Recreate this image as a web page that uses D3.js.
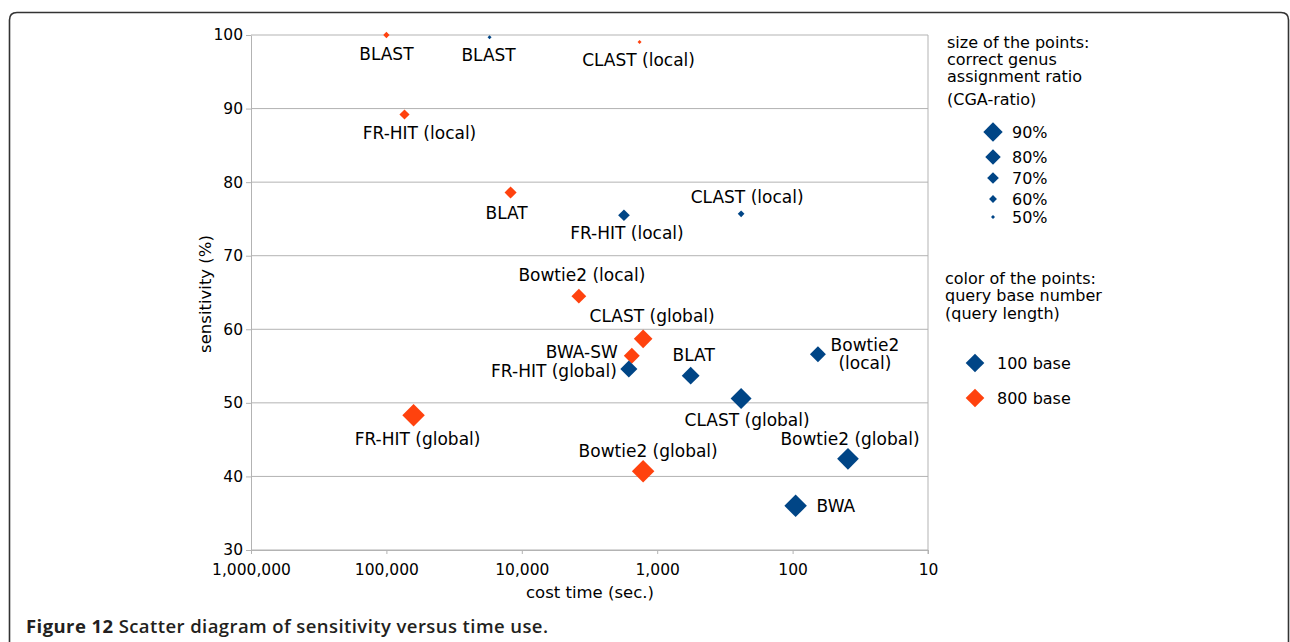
<!doctype html>
<html lang="en">
<head>
<meta charset="utf-8">
<script src="https://cdnjs.cloudflare.com/ajax/libs/d3/7.8.5/d3.min.js"></script>
<style type="text/css">
	body {
		margin: 0;
		background: #fff;
	}
	svg { font-family: 'DejaVu Sans', sans-serif; }
	.grid line { stroke: #b3b3b3; }
	.axis path, .axis line { stroke: #b3b3b3; }
	.axis text { fill: #000; font-size: 15.5px; font-family: 'DejaVu Sans', sans-serif; }
	.lbl { font-size: 17px; fill: #000; }
	.leg { font-size: 16px; fill: #000; }
	.ttl { font-size: 16.5px; fill: #000; }
</style>
</head>
<body>
<script>

// Data
const tools = ["BLAST", "BLAST", "CLAST (local)", "FR-HIT (local)", "BLAT", "FR-HIT (local)",
	"CLAST (local)", "Bowtie2 (local)", "CLAST (global)", "BWA-SW", "FR-HIT (global)", "BLAT",
	"FR-HIT (global)", "Bowtie2 (global)", "Bowtie2 (local)", "CLAST (global)", "Bowtie2 (global)", "BWA"]
const queryLength = [800, 100, 800, 800, 800, 100, 100, 800, 800, 800, 100, 100, 800, 800, 100, 100, 100, 100]
const costTime = [100000, 17300, 1350, 73500, 12100, 1760, 240, 3790, 1270, 1540, 1620, 566,
	63000, 1270, 65, 240, 39, 95]
const sensitivity = [100, 99.7, 99.05, 89.2, 78.6, 75.5, 75.7, 64.5, 58.7, 56.4, 54.6, 53.7,
	48.3, 40.7, 56.6, 50.6, 42.4, 36.0]
const cgaRatio = [56, 50, 50, 66, 71, 70, 57, 78, 88, 81, 84, 86, 98, 98, 81, 94, 96, 98]

const xTicks = [1000000, 100000, 10000, 1000, 100, 10]
const yTicks = [30, 40, 50, 60, 70, 80, 90, 100]
const legendRatios = [90, 80, 70, 60, 50]
const legendLengths = [100, 800]

// label placement relative to each point: [dx, dy, anchor, wrap]
const labelPos = [[0, 19, "middle"], [-1, 18, "middle"], [-1, 18, "middle"], [15, 19, "middle"],
	[-4, 21, "middle"], [3, 18, "middle"], [6, -17, "middle"], [3, -21, "middle"],
	[9, -23, "middle"], [-14, -4, "end"], [-12, 2, "end"], [3, -21, "middle"],
	[4, 24, "middle"], [5, -20, "middle"], [47, -9, "middle", true], [6, 22, "middle"],
	[2, -20, "middle"], [21, 0, "start"]]

const w = 1290
const h = 642

const points = tools.map((t, i) => ({
	name: t, len: queryLength[i], time: costTime[i], sens: sensitivity[i], cga: cgaRatio[i], pos: labelPos[i]
}))

const xScale = d3.scaleLog().domain([1000000, 10]).range([251, 928])
const yScale = d3.scaleLinear().domain([30, 100]).range([550, 35])
const sizeScale = d3.scaleLinear().domain([50, 90]).range([2, 9.7])
const color = d3.scaleOrdinal().domain(legendLengths).range(["#004586", "#ff420e"])

const diamond = r => "M0," + (-r) + "L" + r + ",0L0," + r + "L" + (-r) + ",0Z"

const svg = d3.select("body").append("svg")
	.attr("width", w)
	.attr("height", h)

// figure frame
svg.append("path")
	.attr("d", "M9.5,660 L9.5,20 Q9.5,12.5 17,12.5 L1281,12.5 Q1288.5,12.5 1288.5,20 L1288.5,660")
	.attr("fill", "none")
	.attr("stroke", "#333")
	.attr("stroke-width", 1.6)

// horizontal grid lines
svg.append("g").attr("class", "grid")
	.selectAll("line")
	.data(yTicks)
	.enter().append("line")
	.attr("x1", 251).attr("x2", 928)
	.attr("y1", d => yScale(d)).attr("y2", d => yScale(d))

// right border of the plot
svg.append("line")
	.attr("x1", 928).attr("x2", 928)
	.attr("y1", yScale(100)).attr("y2", yScale(30) + 4)
	.attr("stroke", "#b3b3b3")

// axes
const xAxis = d3.axisBottom(xScale).tickValues(xTicks).tickFormat(d3.format(",")).tickSize(4).tickSizeOuter(0)
const yAxis = d3.axisLeft(yScale).tickValues(yTicks).tickSize(5).tickSizeOuter(0)

svg.append("g").attr("class", "axis")
	.attr("transform", "translate(0," + yScale(30) + ")")
	.call(xAxis)
	.call(g => g.selectAll("text").attr("dy", null).attr("y", 25))

svg.append("g").attr("class", "axis")
	.attr("transform", "translate(251,0)")
	.call(yAxis)
	.call(g => g.selectAll("text").attr("x", -8))

// axis titles
svg.append("text")
	.attr("class", "ttl")
	.attr("x", 590).attr("y", 598)
	.attr("text-anchor", "middle")
	.text("cost time (sec.)")

svg.append("text")
	.attr("class", "ttl")
	.attr("transform", "rotate(-90)")
	.attr("x", -294).attr("y", 211)
	.attr("text-anchor", "middle")
	.text("sensitivity (%)")

// points
svg.append("g")
	.selectAll("path")
	.data(points)
	.enter().append("path")
	.attr("transform", d => "translate(" + xScale(d.time) + "," + yScale(d.sens) + ")")
	.attr("d", d => diamond(sizeScale(d.cga)))
	.attr("fill", d => color(d.len))

// point labels
const labels = svg.append("g")
	.selectAll("text")
	.data(points)
	.enter().append("text")
	.attr("class", "lbl")
	.attr("text-anchor", d => d.pos[2])
	.attr("dominant-baseline", "central")

labels.filter(d => !d.pos[3])
	.attr("x", d => xScale(d.time) + d.pos[0])
	.attr("y", d => yScale(d.sens) + d.pos[1])
	.text(d => d.name)

labels.filter(d => d.pos[3])
	.selectAll("tspan")
	.data(d => d.name.split(" ").map(s => ({ s: s, d: d })))
	.enter().append("tspan")
	.attr("x", e => xScale(e.d.time) + e.d.pos[0])
	.attr("y", (e, j) => yScale(e.d.sens) + e.d.pos[1] + j * 18)
	.text(e => e.s)

// legend: size
const legend = svg.append("g")
const sizeTitle = ["size of the points:", "correct genus", "assignment ratio"]
legend.selectAll(".st")
	.data(sizeTitle)
	.enter().append("text")
	.attr("class", "leg")
	.attr("x", 947).attr("y", (d, i) => 48 + i * 17)
	.text(d => d)
legend.append("text").attr("class", "leg").attr("x", 947).attr("y", 105).text("(CGA-ratio)")

const sizeRows = [132, 157, 178, 199, 217]
legend.selectAll(".sd")
	.data(legendRatios)
	.enter().append("path")
	.attr("transform", (d, i) => "translate(993," + sizeRows[i] + ")")
	.attr("d", d => diamond(sizeScale(d)))
	.attr("fill", color(100))
legend.selectAll(".sl")
	.data(legendRatios)
	.enter().append("text")
	.attr("class", "leg")
	.attr("x", 1012).attr("y", (d, i) => sizeRows[i])
	.attr("dominant-baseline", "central")
	.text(d => d + "%")

// legend: colour
const colorTitle = ["color of the points:", "query base number"]
legend.selectAll(".ct")
	.data(colorTitle)
	.enter().append("text")
	.attr("class", "leg")
	.attr("x", 945).attr("y", (d, i) => 284 + i * 17)
	.text(d => d)
legend.append("text").attr("class", "leg").attr("x", 945).attr("y", 319).text("(query length)")

const colorRows = [363, 398]
legend.selectAll(".cd")
	.data(legendLengths)
	.enter().append("path")
	.attr("transform", (d, i) => "translate(975," + colorRows[i] + ")")
	.attr("d", diamond(9.3))
	.attr("fill", d => color(d))
legend.selectAll(".cl")
	.data(legendLengths)
	.enter().append("text")
	.attr("class", "leg")
	.attr("x", 997).attr("y", (d, i) => colorRows[i])
	.attr("dominant-baseline", "central")
	.text(d => d + " base")

// caption
const cap = svg.append("text")
	.attr("x", 26).attr("y", 633)
	.attr("textLength", 522)
	.attr("lengthAdjust", "spacing")
	.style("font-family", "'Open Sans', sans-serif")
	.style("font-size", "18.5px")
	.attr("fill", "#231f20")
cap.append("tspan").style("font-weight", 700).text("Figure 12")
cap.append("tspan").style("font-weight", 600).text(" Scatter diagram of sensitivity versus time use.")

</script>
</body>
</html>
